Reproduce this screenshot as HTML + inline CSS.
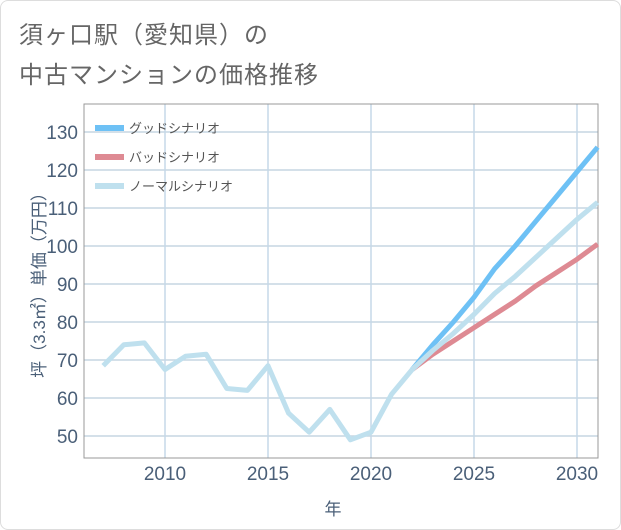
<!DOCTYPE html>
<html><head><meta charset="utf-8"><style>
body{margin:0;background:#fff;font-family:"Liberation Sans","Noto Sans CJK JP",sans-serif;}
#wrap{position:relative;width:619px;height:528px;border:1px solid #ddd;border-radius:8px;overflow:hidden}
.t{position:absolute;left:18px;font-size:24px;color:#666;letter-spacing:1px}
</style></head><body>
<div id="wrap">
<div class="t" style="top:14px">須ヶ口駅（愛知県）の</div>
<div class="t" style="top:54px">中古マンションの価格推移</div>
<svg id="svg" width="621" height="530" style="position:absolute;left:0;top:0"></svg>
</div>
<script>
const histYears=[2007,2008,2009,2010,2011,2012,2013,2014,2015,2016,2017,2018,2019,2020,2021,2022];
const histVals=[68.5,74,74.5,67.5,71,71.5,62.5,62,68.5,56,51,57,49,51,61,67.5];
const fcYears=[2022,2023,2024,2025,2026,2027,2028,2029,2030,2031];
const goodVals=[67.5,74,80,86.5,94,100,106.5,113,119.5,126];
const badVals=[67.5,71.5,75,78.5,82,85.5,89.5,93,96.5,100.5];
const normVals=[67.5,72.5,77,82,87.5,92,97,102,107,111.5];
const yTicks=[50,60,70,80,90,100,110,120,130];
const xTicks=[2010,2015,2020,2025,2030];
const L=83,R=597,T=103,B=457;
const X=v=>164+(v-2010)*(576-164)/20;
const Y=v=>435-(v-50)*(435-131)/80;
const s=document.getElementById('svg');const NS='http://www.w3.org/2000/svg';
function el(t,a,p){const e=document.createElementNS(NS,t);for(const k in a)e.setAttribute(k,a[k]);(p||s).appendChild(e);return e;}
yTicks.forEach(v=>{const l=el('line',{x1:L,x2:R,y1:Y(v),y2:Y(v),stroke:'#c5d5e2','stroke-width':1.5});

const t=el('text',{x:L-6,y:Y(v)+7,'text-anchor':'end','font-size':19,fill:'#4a5f78'});t.textContent=v;
});
xTicks.forEach(v=>{const l=el('line',{x1:X(v),x2:X(v),y1:T,y2:B,stroke:'#c5d8e8','stroke-width':1.5});

const t=el('text',{x:X(v),y:B+22,'text-anchor':'middle','font-size':19,fill:'#4a5f78'});t.textContent=v;
});
const fr=el('rect',{x:L,y:T,width:R-L,height:B-T,fill:'none',stroke:'#999','stroke-width':1});

function line(xs,vs,c,n){const p=el('polyline',{points:xs.map((x,i)=>X(x)+','+Y(vs[i])).join(' '),fill:'none',stroke:c,'stroke-width':5,'stroke-linejoin':'round'});
}
line(fcYears,badVals,'#de8a93','bad-scenario-line');
line(fcYears,goodVals,'#6ec1f5','good-scenario-line');
line(fcYears,normVals,'#bfe0ee','normal-scenario-line');
line(histYears,histVals,'#bfe0ee','historical-line');
const leg=[['グッドシナリオ','#6ec1f5'],['バッドシナリオ','#de8a93'],['ノーマルシナリオ','#bfe0ee']];
leg.forEach((d,i)=>{const y=127+i*29;
const r=el('rect',{x:94,y:y-3,width:29,height:6,fill:d[1]});
const t=el('text',{x:128,y:y+5,'font-size':13,fill:'#555'});t.textContent=d[0];});
const yt=el('text',{transform:'translate(44,280) rotate(-90)','text-anchor':'middle','font-size':17,fill:'#4a5f78'});yt.textContent='坪（3.3㎡）単価（万円）';

const xt=el('text',{x:332,y:514,'text-anchor':'middle','font-size':17,fill:'#4a5f78'});xt.textContent='年';

</script></body></html>
